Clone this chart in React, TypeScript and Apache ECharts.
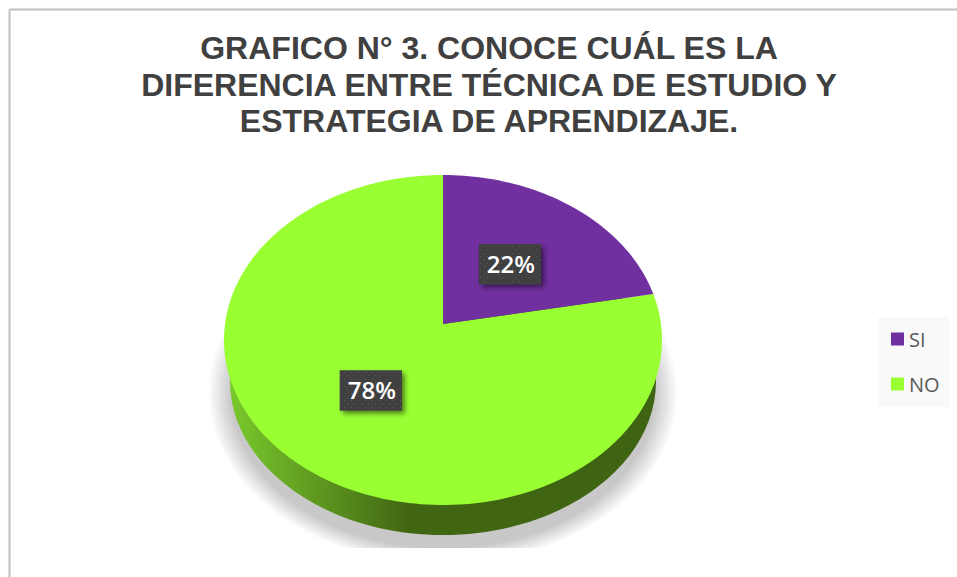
import React, { useEffect, useRef } from "react";
import * as echarts from "echarts";

const titleLines = [
  "GRAFICO N° 3. CONOCE CUÁL ES LA",
  "DIFERENCIA ENTRE TÉCNICA DE ESTUDIO Y",
  "ESTRATEGIA DE APRENDIZAJE.",
];
const categories = ["SI", "NO"];
const percentages = [22, 78];
const sliceColors = ["#7030A0", "#99FF33"];

const CX = 443;
const CY = 340;
const RX = 219;
const RY = 165;
const TILT = 0.097;
const LABEL_R = 0.5;
const total = percentages.reduce((a, b) => a + b, 0);

function project(theta: number, r: number): number[] {
  const u = r * Math.sin(theta);
  const v = r * Math.cos(theta);
  const d = 1 + TILT * v;
  return [
    CX + (RX * u * Math.sqrt(1 - TILT * TILT)) / d,
    CY - (RY * (v + TILT)) / d,
  ];
}

function dotCanvas(): string {
  const c = document.createElement("canvas");
  c.width = 7;
  c.height = 7;
  const g = c.getContext("2d")!;
  g.fillStyle = "#404040";
  g.fillRect(0, 0, 7, 7);
  g.fillStyle = "#5a5a5a";
  g.fillRect(1, 1, 1, 1);
  g.fillRect(4, 4, 1, 1);
  return c.toDataURL();
}

function sliceSeries(index: number, pattern: string): any {
  const before = percentages.slice(0, index).reduce((a, b) => a + b, 0);
  return {
    type: "custom",
    name: categories[index],
    coordinateSystem: "none",
    silent: true,
    z: index === 1 ? 2 : 3,
    itemStyle: { color: sliceColors[index] },
    data: [percentages[index]],
    renderItem: (_p: any, api: any) => {
      const value = api.value(0);
      const a0 = (before / total) * Math.PI * 2;
      const a1 = ((before + value) / total) * Math.PI * 2;
      const n = Math.max(8, Math.ceil((value / total) * 240));
      const pts: number[][] = [project(0, 0)];
      for (let i = 0; i <= n; i++) pts.push(project(a0 + ((a1 - a0) * i) / n, 1));
      const mid = project((a0 + a1) / 2, LABEL_R);
      const my = mid[1] + 1;
      const children: any[] = [];
      if (index === 1) {
        children.push(
          {
            type: "ellipse",
            shape: { cx: CX, cy: 393, rx: 235, ry: 172 },
            style: {
              fill: {
                type: "radial", x: 0.5, y: 0.5, r: 0.5,
                colorStops: [
                  { offset: 0, color: "#c8c8c8" },
                  { offset: 0.9, color: "#c8c8c8" },
                  { offset: 1, color: "#ffffff" },
                ],
              },
            },
          },
          { type: "rect", shape: { x: 180, y: 548, width: 530, height: 29 }, style: { fill: "#ffffff" } },
          {
            type: "ellipse",
            shape: { cx: CX, cy: 381, rx: 213, ry: 154 },
            style: {
              fill: {
                type: "linear", x: 0, y: 0, x2: 1, y2: 0,
                colorStops: [
                  { offset: 0, color: "#79c82c" },
                  { offset: 0.42, color: "#416613" },
                  { offset: 1, color: "#3e6312" },
                ],
              },
            },
          }
        );
      }
      children.push(
        { type: "polygon", shape: { points: pts }, style: { fill: sliceColors[index] } },
        {
          type: "rect",
          shape: { x: mid[0] - 31, y: my - 20, width: 62, height: 40 },
          style: {
            fill: "#404040",
            shadowBlur: 5,
            shadowOffsetX: 3,
            shadowOffsetY: 3,
            shadowColor: "rgba(0,0,0,0.5)",
          },
        },
        {
          type: "rect",
          shape: { x: mid[0] - 31, y: my - 20, width: 62, height: 40 },
          style: { fill: { image: pattern, repeat: "repeat" } },
        },
        {
          type: "text",
          x: mid[0] + 1,
          y: my - 1,
          style: {
            text: `${value}%`,
            fill: "#ffffff",
            font: "600 24px 'Open Sans'",
            align: "center",
            verticalAlign: "middle",
          },
        }
      );
      return { type: "group", children };
    },
  };
}

export default function App() {
  const ref = useRef<HTMLDivElement>(null);
  useEffect(() => {
    const chart = echarts.init(ref.current!, null, { renderer: "svg" });
    const pattern = dotCanvas();
    chart.setOption({
      animation: false,
      backgroundColor: "#ffffff",
      title: {
        text: titleLines.join("\n"),
        left: 484,
        top: 25,
        textAlign: "center",
        textStyle: {
          fontFamily: "Liberation Sans",
          fontWeight: "bold",
          fontSize: 32,
          lineHeight: 36.5,
          color: "#404040",
        },
      },
      legend: {
        data: categories,
        orient: "vertical",
        left: 878,
        top: 317,
        padding: [12, 10, 13, 13],
        backgroundColor: "#f9f9f9",
        icon: "rect",
        itemWidth: 13,
        itemHeight: 13,
        itemGap: 25,
        selectedMode: false,
        textStyle: { fontFamily: "Open Sans", fontSize: 20, color: "#595959", width: 39, overflow: "none" },
      },
      graphic: [
        { type: "line", shape: { x1: 9.5, y1: 9.5, x2: 957, y2: 9.5 }, style: { stroke: "#c0c0c0", lineWidth: 2 } },
        { type: "line", shape: { x1: 9.5, y1: 9.5, x2: 9.5, y2: 577 }, style: { stroke: "#c0c0c0", lineWidth: 2 } },
      ],
      series: [sliceSeries(1, pattern), sliceSeries(0, pattern)],
    });
    return () => chart.dispose();
  }, []);
  return <div ref={ref} style={{ position: "fixed", left: 0, top: 0, width: 957, height: 577 }} />;
}
